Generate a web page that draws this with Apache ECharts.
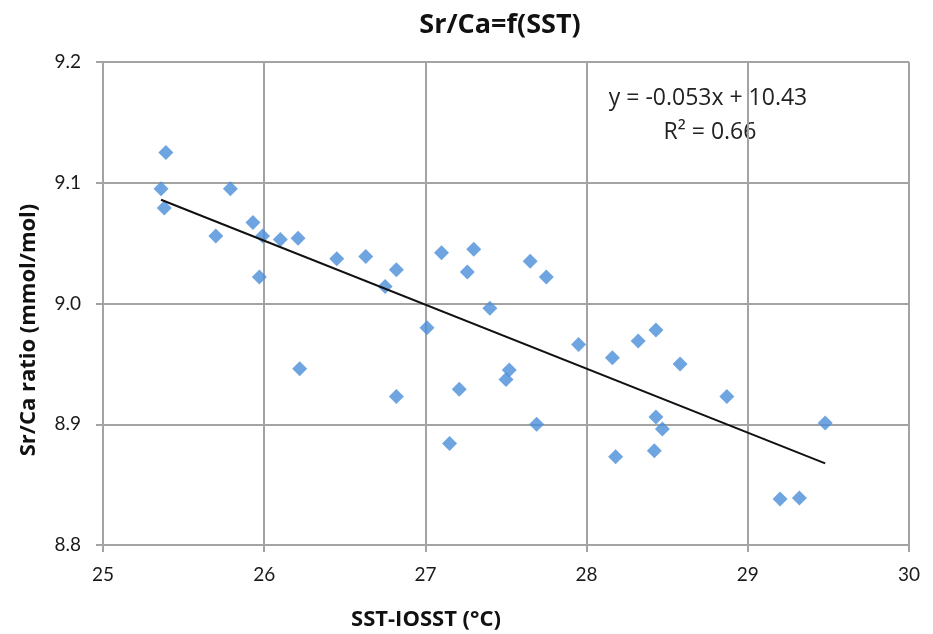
<!DOCTYPE html>
<html>
<head>
<meta charset="utf-8">
<script src="https://cdn.jsdelivr.net/npm/echarts@6/dist/echarts.min.js"></script>
<style>
html,body{margin:0;padding:0;background:#fff;}
#chart{width:933px;height:634px;}
</style>
</head>
<body>
<div id="chart"></div>
<script>
// ---- Data ----
const sstValues = [25.39, 25.36, 25.38, 25.79, 25.70, 25.93, 25.99, 26.10, 26.21, 25.97,
  26.45, 26.63, 26.82, 26.75, 27.10, 27.30, 27.26, 27.65, 27.75, 26.22,
  26.82, 27.40, 27.01, 27.95, 28.32, 28.43, 28.16, 28.58, 27.52, 27.50,
  27.21, 27.69, 27.15, 28.43, 28.47, 28.18, 28.42, 28.87, 29.48, 29.20, 29.32];
const srCaValues = [9.125, 9.095, 9.079, 9.095, 9.056, 9.067, 9.056, 9.053, 9.054, 9.022,
  9.037, 9.039, 9.028, 9.014, 9.042, 9.045, 9.026, 9.035, 9.022, 8.946,
  8.923, 8.996, 8.980, 8.966, 8.969, 8.978, 8.955, 8.950, 8.945, 8.937,
  8.929, 8.900, 8.884, 8.906, 8.896, 8.873, 8.878, 8.923, 8.901, 8.838, 8.839];
const trendSlope = -0.053;
const trendIntercept = 10.43;
const rSquared = 0.66;
const xTicks = [25, 26, 27, 28, 29, 30];
const yTicks = [8.8, 8.9, 9.0, 9.1, 9.2];
const chartTitle = 'Sr/Ca=f(SST)';
const xAxisName = 'SST-IOSST (°C)';
const yAxisName = 'Sr/Ca ratio (mmol/mol)';

// ---- Build ----
const points = sstValues.map((x, i) => [x, srCaValues[i]]);
const xMinData = Math.min(...sstValues);
const xMaxData = Math.max(...sstValues);
const trend = [xMinData, xMaxData].map(x => [x, trendSlope * x + trendIntercept]);
const eqText = 'y = ' + trendSlope.toFixed(3) + 'x + ' + trendIntercept.toFixed(2);
const r2Text = 'R² = ' + rSquared.toFixed(2);

const FONT = '"Open Sans", Lato, sans-serif';
const TICK_FONT = 'Lato, "Open Sans", sans-serif';
const GRID_COLOR = '#a3a3a3';

const chart = echarts.init(document.getElementById('chart'), null, {renderer: 'canvas'});
chart.setOption({
  backgroundColor: '#ffffff',
  animation: false,
  grid: {left: 103, top: 62, right: 24, bottom: 89, containLabel: false},
  xAxis: {
    type: 'value', min: xTicks[0], max: xTicks[xTicks.length - 1], interval: 1,
    axisLine: {show: true, onZero: false, lineStyle: {color: GRID_COLOR, width: 2}},
    axisTick: {show: true, inside: false, length: 7, lineStyle: {color: GRID_COLOR, width: 2}},
    splitLine: {show: true, lineStyle: {color: GRID_COLOR, width: 2}},
    axisLabel: {color: '#1a1a1a', fontSize: 19, fontFamily: TICK_FONT, margin: 20,
      formatter: v => String(v)}
  },
  yAxis: {
    type: 'value', min: yTicks[0], max: yTicks[yTicks.length - 1], interval: 0.1,
    axisLine: {show: true, onZero: false, lineStyle: {color: GRID_COLOR, width: 2}},
    axisTick: {show: true, inside: false, length: 7, lineStyle: {color: GRID_COLOR, width: 2}},
    splitLine: {show: true, lineStyle: {color: GRID_COLOR, width: 2}},
    axisLabel: {color: '#1a1a1a', fontSize: 19, fontFamily: TICK_FONT, margin: 22,
      formatter: v => v.toFixed(1)}
  },
  graphic: [
    {type: 'text', x: 500, y: 25, style: {text: chartTitle, fill: '#111',
      font: 'bold 27px ' + FONT, textAlign: 'center', textVerticalAlign: 'middle'}, z: 10},
    {type: 'text', x: 426, y: 620, style: {text: xAxisName, fill: '#111',
      font: 'bold 22px ' + FONT, textAlign: 'center', textVerticalAlign: 'middle'}},
    {type: 'text', x: 29, y: 330, rotation: Math.PI / 2, style: {text: yAxisName, fill: '#111',
      font: 'bold 22px ' + FONT, textAlign: 'center', textVerticalAlign: 'middle'}},
    {type: 'text', x: 708, y: 98, style: {text: eqText, fill: '#222',
      font: '23px ' + FONT, textAlign: 'center', textVerticalAlign: 'middle'}},
    {type: 'text', x: 710, y: 132, style: {text: r2Text, fill: '#222',
      font: '23px ' + FONT, textAlign: 'center', textVerticalAlign: 'middle'}}
  ],
  series: [
    {type: 'scatter', data: points, symbol: 'diamond', symbolSize: [15, 15],
      itemStyle: {color: '#4a8fd8'}, z: 3},
    {type: 'line', data: trend, showSymbol: false, symbol: 'none',
      lineStyle: {color: '#111', width: 2}, z: 4}
  ]
});
</script>
</body>
</html>
